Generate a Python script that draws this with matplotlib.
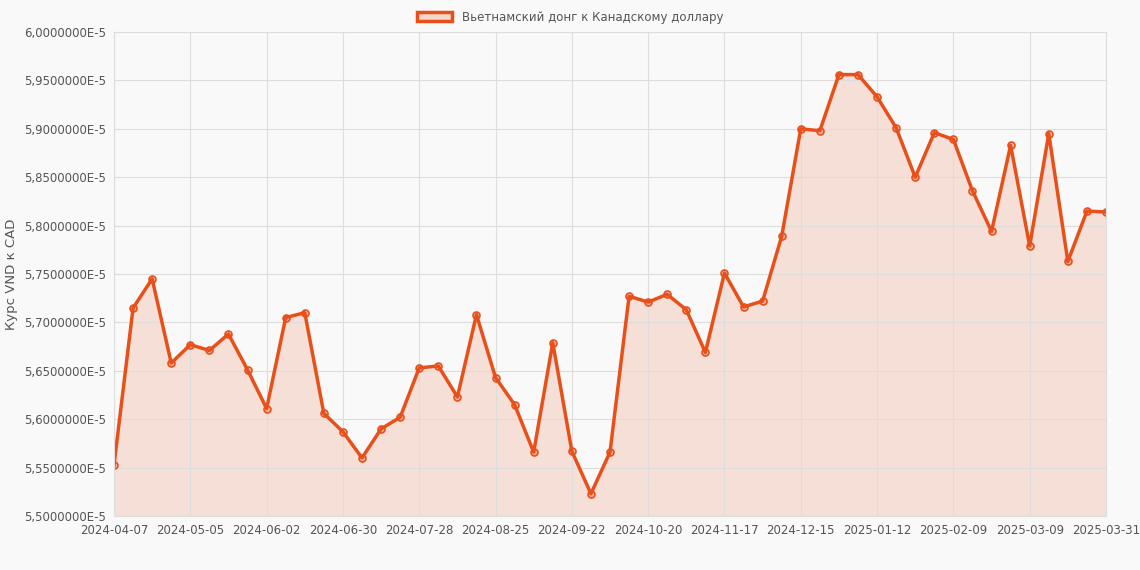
import matplotlib
matplotlib.use("Agg")
import matplotlib.pyplot as plt
from matplotlib.ticker import FuncFormatter

values = [5.5527,5.7149,5.745,5.658,5.677,5.671,5.688,5.651,5.611,5.705,5.710,5.606,5.587,5.560,
          5.590,5.602,5.653,5.655,5.623,5.708,5.643,5.615,5.566,5.679,5.567,5.523,5.566,5.727,
          5.721,5.729,5.713,5.669,5.751,5.716,5.722,5.789,5.900,5.898,5.956,5.956,5.933,5.901,
          5.850,5.896,5.889,5.836,5.794,5.883,5.779,5.895,5.763,5.815,5.814]
tick_pos = [0,4,8,12,16,20,24,28,32,36,40,44,48,52]
tick_labels = ["2024-04-07","2024-05-05","2024-06-02","2024-06-30","2024-07-28","2024-08-25",
               "2024-09-22","2024-10-20","2024-11-17","2024-12-15","2025-01-12","2025-02-09",
               "2025-03-09","2025-03-31"]
label = "Вьетнамский донг к Канадскому доллару"

bg = "#f9f9f9"
col = "#e8501a"
fig = plt.figure(figsize=(11.4,5.7), dpi=100, facecolor=bg)
ax = fig.add_axes([114/1140, 1-516/570, (1106-114)/1140, (516-32)/570], facecolor=bg)
x = list(range(len(values)))
ax.fill_between(x, values, 5.5, color=col, alpha=0.15, lw=0)
ax.plot(x, values, color=col, lw=2.5, marker='o', ms=5, mfc=(0.91,0.31,0.10,0.3), mec=col, mew=1.2, label=label)
ax.set_xlim(0, len(values)-1)
ax.set_ylim(5.5, 6.0)
ax.set_yticks([5.5+0.05*i for i in range(11)])
ax.yaxis.set_major_formatter(FuncFormatter(lambda v,p: f"{v:.7f}".replace('.',',')+"E-5"))
ax.set_xticks(tick_pos)
ax.set_xticklabels(tick_labels)
ax.tick_params(colors="#555555", labelsize=8.5, length=0, pad=6)
ax.grid(True, color="#dddddd", lw=0.8)
for s in ax.spines.values():
    s.set_color("#dddddd")
ax.set_ylabel("Курс VND к CAD", color="#555555", fontsize=9.5, labelpad=4)
fig.legend(handles=[plt.Rectangle((0,0),1,1, fc=(0.91,0.31,0.10,0.2), ec=col, lw=2.5)], labels=[label],
           loc="upper center", bbox_to_anchor=(0.5, 1.0), frameon=False, fontsize=8.5,
           labelcolor="#555555", handlelength=3)
fig.savefig("out.png", dpi=100, facecolor=bg)
